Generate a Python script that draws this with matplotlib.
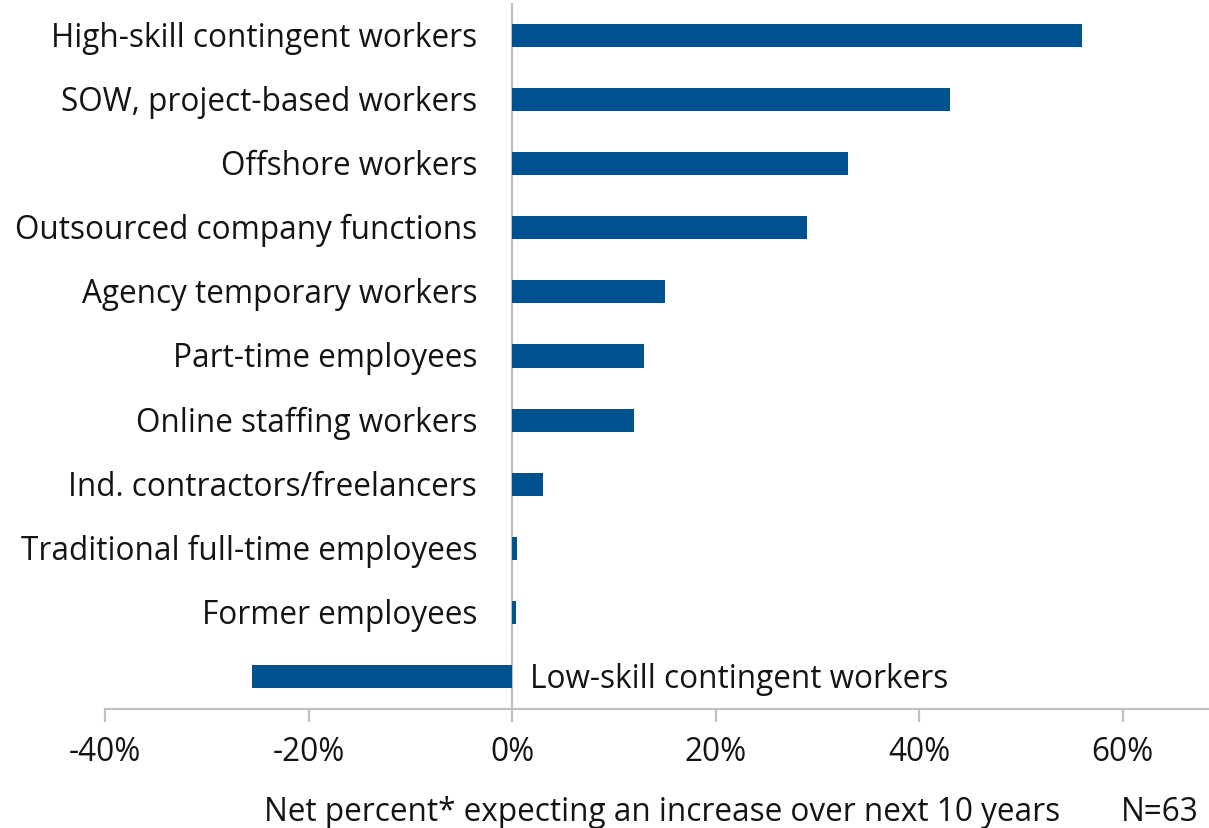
import matplotlib
matplotlib.use("Agg")
import matplotlib.pyplot as plt
from matplotlib.transforms import offset_copy

categories = [
    "High-skill contingent workers",
    "SOW, project-based workers",
    "Offshore workers",
    "Outsourced company functions",
    "Agency temporary workers",
    "Part-time employees",
    "Online staffing workers",
    "Ind. contractors/freelancers",
    "Traditional full-time employees",
    "Former employees",
    "Low-skill contingent workers",
]
net_percent = [56, 43, 33, 29, 15, 13, 12, 3, 0.5, 0.4, -25.6]
tick_values = [-40, -20, 0, 20, 40, 60]
tick_labels = ["-40%", "-20%", "0%", "20%", "40%", "60%"]
xlabel = "Net percent* expecting an increase over next 10 years"
sample_note = "N=63"

BAR = "#00518F"
AXIS = "#c0c0c0"
TEXT = "#141414"
FS = 22.7
plt.rcParams["font.family"] = ["Open Sans", "DejaVu Sans"]

fig = plt.figure(figsize=(12.09, 8.29), dpi=100)
ax = fig.add_axes([105 / 1209, 1 - 710 / 829, 1 - 105 / 1209, (710 - 4) / 829])

ypos = list(range(len(categories)))
ax.barh(ypos, net_percent, height=0.36, color=BAR, zorder=2)
ax.set_ylim(len(categories) - 0.5, -0.5)
ax.set_xlim(-40, 68.5)

for s in ["top", "right", "left"]:
    ax.spines[s].set_visible(False)
ax.spines["bottom"].set_color(AXIS)
ax.spines["bottom"].set_linewidth(1.6)
ax.axvline(0, color=AXIS, lw=1.6, zorder=1)

ax.set_yticks([])
ax.set_xticks(tick_values)
ax.set_xticklabels(tick_labels, fontsize=FS, color=TEXT)
ax.tick_params(axis="x", length=9, width=1.6, color=AXIS, pad=10)

left_tr = offset_copy(ax.transData, fig=fig, x=-35, y=-2, units="dots")
right_tr = offset_copy(ax.transData, fig=fig, x=18, y=-2, units="dots")
for y, name, v in zip(ypos, categories, net_percent):
    if v < 0:
        ax.text(0, y, name, transform=right_tr, ha="left", va="center",
                fontsize=FS, color=TEXT)
    else:
        ax.text(0, y, name, transform=left_tr, ha="right", va="center",
                fontsize=FS, color=TEXT)

fig.text(662 / 1209, 1 - 813 / 829, xlabel, ha="center", va="center",
         fontsize=FS, color=TEXT)
fig.text(1160 / 1209, 1 - 813 / 829, sample_note, ha="center", va="center",
         fontsize=FS, color=TEXT)

fig.savefig("out.png", dpi=100)
